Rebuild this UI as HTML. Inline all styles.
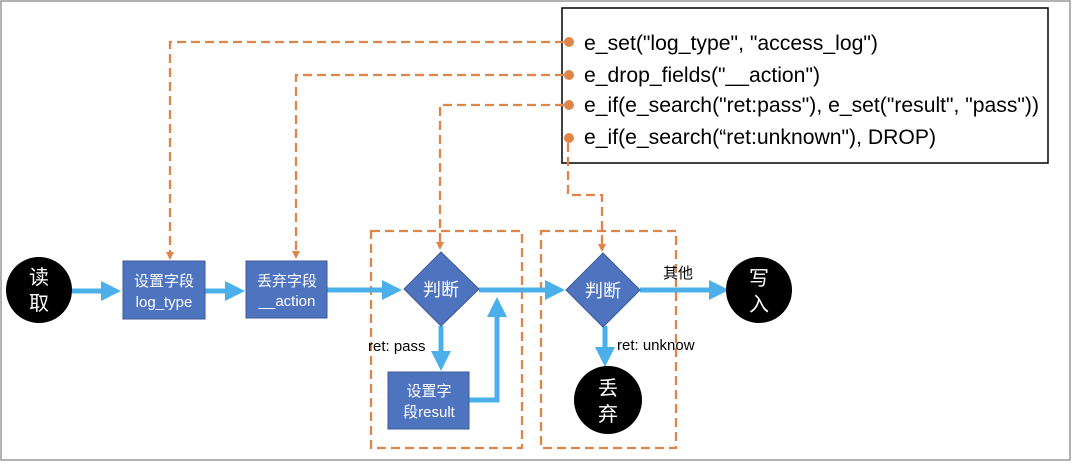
<!DOCTYPE html>
<html><head><meta charset="utf-8"><style>
body{margin:0;background:#fff;}
svg text{font-family:"Liberation Sans","Noto Sans CJK SC",sans-serif;}
</style></head><body>
<svg width="1072" height="462" viewBox="0 0 1072 462" xmlns="http://www.w3.org/2000/svg">
<defs>
<marker id="ba" markerWidth="4" markerHeight="4" refX="3" refY="2" orient="auto" markerUnits="strokeWidth"><path d="M0,0 L4,2 L0,4 z" fill="#4bb0ea"/></marker>
<marker id="oa" markerWidth="8" markerHeight="8" refX="6" refY="4" orient="auto" markerUnits="userSpaceOnUse"><path d="M0,0 L8,4 L0,8 z" fill="#e0854a"/></marker>
</defs>
<rect x="1" y="1" width="1069" height="459" fill="#fff" stroke="#999" stroke-width="1.5"/>
<rect x="562" y="8" width="486" height="155" fill="#fff" stroke="#000" stroke-width="1.5"/>
<g font-size="21" fill="#000">
<text x="584" y="50" textLength="294" lengthAdjust="spacingAndGlyphs">e_set("log_type", "access_log")</text>
<text x="584" y="82" textLength="236" lengthAdjust="spacingAndGlyphs">e_drop_fields("__action")</text>
<text x="584" y="112" textLength="455" lengthAdjust="spacingAndGlyphs">e_if(e_search("ret:pass"), e_set("result", "pass"))</text>
<text x="584" y="144" textLength="352" lengthAdjust="spacingAndGlyphs">e_if(e_search(“ret:unknown"), DROP)</text>
</g>
<g fill="#e0854a"><circle cx="569" cy="42" r="5"/><circle cx="569" cy="75" r="5"/><circle cx="569" cy="105" r="5"/><circle cx="569" cy="138" r="5"/></g>
<g fill="none" stroke="#e0854a" stroke-width="2.3" stroke-dasharray="9,5">
<path d="M564,42 H170 V258" marker-end="url(#oa)"/>
<path d="M564,75 H296 V257" marker-end="url(#oa)"/>
<path d="M564,105 H440 V248" marker-end="url(#oa)"/>
<path d="M568,143 V195 H602 V250" marker-end="url(#oa)"/>
<rect x="371" y="231" width="151" height="217"/>
<rect x="541" y="231" width="135" height="217"/>
</g>
<g stroke="#4bb0ea" stroke-width="5" fill="none">
<path d="M72,291 H116" marker-end="url(#ba)"/>
<path d="M205,291 H240" marker-end="url(#ba)"/>
<path d="M327,290 H397" marker-end="url(#ba)"/>
<path d="M479,290 H560" marker-end="url(#ba)"/>
<path d="M441,326 V366" marker-end="url(#ba)"/>
<path d="M469,400 H497 V302" marker-end="url(#ba)"/>
<path d="M640,290 H724" marker-end="url(#ba)"/>
<path d="M605,326 V362" marker-end="url(#ba)"/>
</g>
<circle cx="39" cy="290" r="33" fill="#000"/>
<text x="39" y="284" font-size="20" fill="#fff" text-anchor="middle">读</text>
<text x="39" y="310" font-size="20" fill="#fff" text-anchor="middle">取</text>
<circle cx="759" cy="290" r="33" fill="#000"/>
<text x="759" y="285" font-size="20" fill="#fff" text-anchor="middle">写</text>
<text x="759" y="311" font-size="20" fill="#fff" text-anchor="middle">入</text>
<circle cx="608" cy="400" r="34" fill="#000"/>
<text x="608" y="395" font-size="20" fill="#fff" text-anchor="middle">丢</text>
<text x="608" y="421" font-size="20" fill="#fff" text-anchor="middle">弃</text>
<g fill="#4f74bf" stroke="#3c5a98" stroke-width="1">
<rect x="123" y="261" width="82" height="58"/>
<rect x="246" y="261" width="81" height="57"/>
<rect x="388" y="372" width="81" height="57"/>
<path d="M441,252 L479,289 L441,326 L404,289 z"/>
<path d="M603,253 L640,290 L603,327 L566,290 z"/>
</g>
<g fill="#fff" font-size="15" text-anchor="middle">
<text x="164" y="286">设置字段</text>
<text x="164" y="307">log_type</text>
<text x="287" y="286">丢弃字段</text>
<text x="287" y="306">__action</text>
<text x="429" y="396">设置字</text>
<text x="429" y="417">段result</text>
<text x="441" y="296" font-size="18">判断</text>
<text x="603" y="297" font-size="18">判断</text>
</g>
<g font-size="15" fill="#000">
<text x="368" y="351">ret: pass</text>
<text x="617" y="350">ret: unknow</text>
<text x="663" y="278">其他</text>
</g>
</svg>
</body></html>
